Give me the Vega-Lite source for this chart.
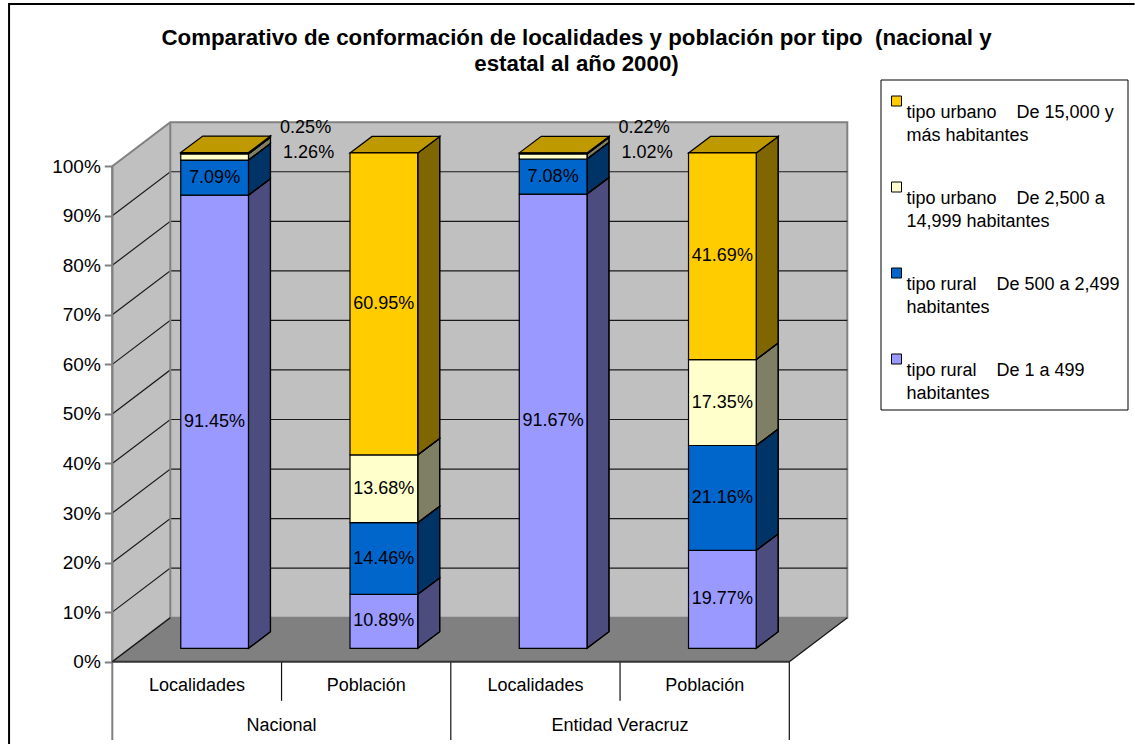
{
"$schema":"https://vega.github.io/schema/vega-lite/v6.json",
"width":1135,"height":744,"padding":0,"autosize":"none","background":"#ffffff",
"view":{"stroke":null},
"config":{"font":"Liberation Sans"},
"title":{"text":["Comparativo de conformación de localidades y población por tipo \u00a0(nacional y","estatal al año 2000)"],"font":"Liberation Sans","fontSize":22.3,"fontWeight":"bold","color":"#000","anchor":"middle","frame":"group","baseline":"top","dx":9,"dy":75,"offset":0,"lineHeight":26},
"datasets":{
"barras":[
{"pos":0,"clave":"Nacional Localidades","orden":1,"serie":"tipo rural\u00a0\u00a0\u00a0\u00a0De 1 a 499 habitantes","valor":91.45},
{"pos":0,"clave":"Nacional Localidades","orden":2,"serie":"tipo rural\u00a0\u00a0\u00a0\u00a0De 500 a 2,499 habitantes","valor":7.09},
{"pos":0,"clave":"Nacional Localidades","orden":3,"serie":"tipo urbano\u00a0\u00a0\u00a0\u00a0De 2,500 a 14,999 habitantes","valor":1.26},
{"pos":0,"clave":"Nacional Localidades","orden":4,"serie":"tipo urbano\u00a0\u00a0\u00a0\u00a0De 15,000 y más habitantes","valor":0.25},
{"pos":1,"clave":"Nacional Población","orden":1,"serie":"tipo rural\u00a0\u00a0\u00a0\u00a0De 1 a 499 habitantes","valor":10.89},
{"pos":1,"clave":"Nacional Población","orden":2,"serie":"tipo rural\u00a0\u00a0\u00a0\u00a0De 500 a 2,499 habitantes","valor":14.46},
{"pos":1,"clave":"Nacional Población","orden":3,"serie":"tipo urbano\u00a0\u00a0\u00a0\u00a0De 2,500 a 14,999 habitantes","valor":13.68},
{"pos":1,"clave":"Nacional Población","orden":4,"serie":"tipo urbano\u00a0\u00a0\u00a0\u00a0De 15,000 y más habitantes","valor":60.95},
{"pos":2,"clave":"Veracruz Localidades","orden":1,"serie":"tipo rural\u00a0\u00a0\u00a0\u00a0De 1 a 499 habitantes","valor":91.67},
{"pos":2,"clave":"Veracruz Localidades","orden":2,"serie":"tipo rural\u00a0\u00a0\u00a0\u00a0De 500 a 2,499 habitantes","valor":7.08},
{"pos":2,"clave":"Veracruz Localidades","orden":3,"serie":"tipo urbano\u00a0\u00a0\u00a0\u00a0De 2,500 a 14,999 habitantes","valor":1.02},
{"pos":2,"clave":"Veracruz Localidades","orden":4,"serie":"tipo urbano\u00a0\u00a0\u00a0\u00a0De 15,000 y más habitantes","valor":0.22},
{"pos":3,"clave":"Veracruz Población","orden":1,"serie":"tipo rural\u00a0\u00a0\u00a0\u00a0De 1 a 499 habitantes","valor":19.77},
{"pos":3,"clave":"Veracruz Población","orden":2,"serie":"tipo rural\u00a0\u00a0\u00a0\u00a0De 500 a 2,499 habitantes","valor":21.16},
{"pos":3,"clave":"Veracruz Población","orden":3,"serie":"tipo urbano\u00a0\u00a0\u00a0\u00a0De 2,500 a 14,999 habitantes","valor":17.35},
{"pos":3,"clave":"Veracruz Población","orden":4,"serie":"tipo urbano\u00a0\u00a0\u00a0\u00a0De 15,000 y más habitantes","valor":41.69}
],
"pared":[{"x":0,"a":100,"b":0},{"x":0.3427,"a":108.88,"b":8.88},{"x":4.3427,"a":108.88,"b":8.88}],
"piso":[{"x":0,"a":0,"b":0},{"x":0.3427,"a":8.88,"b":0},{"x":4,"a":8.88,"b":0},{"x":4.3427,"a":8.88,"b":8.88}],
"rejilla":[{"v":10},{"v":20},{"v":30},{"v":40},{"v":50},{"v":60},{"v":70},{"v":80},{"v":90}],
"categorias":[{"pos":0.5,"nombre":"Localidades"},{"pos":1.5,"nombre":"Población"},{"pos":2.5,"nombre":"Localidades"},{"pos":3.5,"nombre":"Población"}],
"grupos":[{"pos":1,"nombre":"Nacional"},{"pos":3,"nombre":"Entidad Veracruz"}],
"trazos":[
{"id":"marco","i":0,"x":-0.61,"y":-16.6,"estilo":"marco"},{"id":"marco","i":1,"x":-0.61,"y":132.73,"estilo":"marco"},{"id":"marco","i":2,"x":6.04,"y":132.73,"estilo":"marco"},
{"id":"arista","i":0,"x":0.3427,"y":108.88,"estilo":"gris"},{"id":"arista","i":1,"x":0.3427,"y":8.88,"estilo":"gris"},{"id":"eje","i":0,"x":0,"y":100,"estilo":"gris"},{"id":"eje","i":1,"x":0,"y":-15.8,"estilo":"gris"},{"id":"der","i":0,"x":4,"y":0,"estilo":"fino"},{"id":"der","i":1,"x":4,"y":-15.8,"estilo":"fino"},
{"id":"s1","i":0,"x":1,"y":0,"estilo":"fino"},{"id":"s1","i":1,"x":1,"y":-7.9,"estilo":"fino"},{"id":"s2","i":0,"x":2,"y":0,"estilo":"fino"},{"id":"s2","i":1,"x":2,"y":-15.8,"estilo":"fino"},{"id":"s3","i":0,"x":3,"y":0,"estilo":"fino"},{"id":"s3","i":1,"x":3,"y":-7.9,"estilo":"fino"},
{"id":"dd","i":0,"x":4,"y":0,"estilo":"fino"},{"id":"dd","i":1,"x":4.3427,"y":8.88,"estilo":"fino"},{"id":"di","i":0,"x":0,"y":0,"estilo":"fino"},{"id":"di","i":1,"x":0.3427,"y":8.88,"estilo":"fino"},
{"id":"base","i":0,"x":0,"y":0,"estilo":"base"},{"id":"base","i":1,"x":4,"y":0,"estilo":"base"}
]
},
"layer":[
{"data":{"name":"pared"},"mark":{"type":"area","fill":"#C0C0C0","stroke":"#808080","strokeWidth":2},"encoding":{"x":{"field":"x","type":"quantitative","scale":{"domain":[-0.6635,6.0425],"nice":false,"zero":false},"axis":null},"y":{"field":"a","type":"quantitative","scale":{"domain":[-16.61,133.54],"nice":false,"zero":false},"axis":{"values":[0,10,20,30,40,50,60,70,80,90,100],"title":null,"offset":-112.3,"domain":false,"grid":false,"tickColor":"#808080","tickSize":8,"tickWidth":2,"labelPadding":4,"labelFontSize":19,"labelColor":"#000","labelFont":"Liberation Sans","labelExpr":"datum.value+'%'"}},"y2":{"field":"b"}}},
{"data":{"name":"rejilla"},"transform":[{"calculate":"[0,1,2]","as":"t"},{"flatten":["t"]},{"calculate":"[0,0.3427,4.3427][datum.t]","as":"gx"},{"calculate":"datum.v+(datum.t>0?8.88:0)","as":"gy"}],"mark":{"type":"line","stroke":"#1a1a1a","strokeWidth":1.2},"encoding":{"x":{"field":"gx","type":"quantitative"},"y":{"field":"gy","type":"quantitative"},"detail":{"field":"v","type":"nominal"}}},
{"data":{"name":"piso"},"mark":{"type":"area","fill":"#808080"},"encoding":{"x":{"field":"x","type":"quantitative"},"y":{"field":"a","type":"quantitative"},"y2":{"field":"b"}}},
{"data":{"name":"trazos"},"transform":[{"filter":"datum.estilo=='marco'"}],"mark":{"type":"line","stroke":"#000","strokeWidth":2},"encoding":{"x":{"field":"x","type":"quantitative"},"y":{"field":"y","type":"quantitative"},"order":{"field":"i","type":"quantitative"},"detail":{"field":"id","type":"nominal"}}},
{"data":{"name":"trazos"},"transform":[{"filter":"datum.estilo=='gris'"}],"mark":{"type":"line","stroke":"#808080","strokeWidth":2},"encoding":{"x":{"field":"x","type":"quantitative"},"y":{"field":"y","type":"quantitative"},"order":{"field":"i","type":"quantitative"},"detail":{"field":"id","type":"nominal"}}},
{"data":{"name":"trazos"},"transform":[{"filter":"datum.estilo=='fino'"}],"mark":{"type":"line","stroke":"#111","strokeWidth":1.2},"encoding":{"x":{"field":"x","type":"quantitative"},"y":{"field":"y","type":"quantitative"},"order":{"field":"i","type":"quantitative"},"detail":{"field":"id","type":"nominal"}}},
{"data":{"name":"trazos"},"transform":[{"filter":"datum.estilo=='base'"}],"mark":{"type":"line","stroke":"#333","strokeWidth":2},"encoding":{"x":{"field":"x","type":"quantitative"},"y":{"field":"y","type":"quantitative"},"order":{"field":"i","type":"quantitative"},"detail":{"field":"id","type":"nominal"}}},
{"data":{"name":"categorias"},"mark":{"type":"text","fontSize":18,"font":"Liberation Sans","color":"#000","yOffset":24.5},"encoding":{"x":{"field":"pos","type":"quantitative"},"y":{"datum":0,"type":"quantitative"},"text":{"field":"nombre","type":"nominal"}}},
{"data":{"name":"grupos"},"mark":{"type":"text","fontSize":18,"font":"Liberation Sans","color":"#000","yOffset":64.5},"encoding":{"x":{"field":"pos","type":"quantitative"},"y":{"datum":0,"type":"quantitative"},"text":{"field":"nombre","type":"nominal"}}},
{"data":{"name":"barras"},
 "transform":[
  {"stack":"valor","groupby":["pos"],"sort":[{"field":"orden","order":"ascending"}],"as":["ini","fin"]},
  {"calculate":"datum.pos+0.5+0.1045-0.2","as":"x0"},
  {"calculate":"datum.pos+0.5+0.1045+0.2","as":"x1"},
  {"calculate":"datum.ini+2.7","as":"y0"},
  {"calculate":"datum.fin+2.7","as":"y1"}
 ],
 "layer":[
  {"transform":[{"calculate":"[0,1]","as":"t"},{"flatten":["t"]},{"calculate":"datum.x1+datum.t*0.13","as":"sx"},{"calculate":"datum.y0+datum.t*3.33","as":"sb"},{"calculate":"datum.y1+datum.t*3.33","as":"sa"},{"calculate":"datum.clave+datum.orden","as":"cara"}],
   "mark":{"type":"area","stroke":"#000","strokeWidth":1.2,"fillOpacity":1},
   "encoding":{"x":{"field":"sx","type":"quantitative"},"y":{"field":"sa","type":"quantitative"},"y2":{"field":"sb"},"detail":{"field":"cara","type":"nominal"},"fill":{"field":"serie","type":"nominal","title":" "}}},
  {"transform":[{"calculate":"[0,1]","as":"t"},{"flatten":["t"]},{"calculate":"datum.x1+datum.t*0.13","as":"sx"},{"calculate":"datum.y0+datum.t*3.33","as":"sb"},{"calculate":"datum.y1+datum.t*3.33","as":"sa"},{"calculate":"datum.clave+datum.orden","as":"cara"}],
   "mark":{"type":"area","fill":"#000","fillOpacity":0.5,"stroke":"#000","strokeWidth":1.2},
   "encoding":{"x":{"field":"sx","type":"quantitative"},"y":{"field":"sa","type":"quantitative"},"y2":{"field":"sb"},"detail":{"field":"cara","type":"nominal"}}},
  {"transform":[{"filter":"datum.orden==4"},{"calculate":"[0,1,2,3]","as":"t"},{"flatten":["t"]},{"calculate":"datum.x0+[0,0.13,0.4,0.53][datum.t]","as":"tx"},{"calculate":"datum.y1+(datum.t>0?3.33:0)","as":"ta"},{"calculate":"datum.y1+(datum.t==3?3.33:0)","as":"tb"}],
   "mark":{"type":"area","fill":"#BF9900","stroke":"#000","strokeWidth":1.2},
   "encoding":{"x":{"field":"tx","type":"quantitative"},"y":{"field":"ta","type":"quantitative"},"y2":{"field":"tb"},"detail":{"field":"clave","type":"nominal"}}},
  {"mark":{"type":"rect","stroke":"#000","strokeWidth":1.2},
   "encoding":{"x":{"field":"x0","type":"quantitative"},"x2":{"field":"x1"},"y":{"field":"y0","type":"quantitative"},"y2":{"field":"y1"},
    "fill":{"field":"serie","type":"nominal","title":" ",
     "scale":{"domain":["tipo urbano\u00a0\u00a0\u00a0\u00a0De 15,000 y más habitantes","tipo urbano\u00a0\u00a0\u00a0\u00a0De 2,500 a 14,999 habitantes","tipo rural\u00a0\u00a0\u00a0\u00a0De 500 a 2,499 habitantes","tipo rural\u00a0\u00a0\u00a0\u00a0De 1 a 499 habitantes"],"range":["#FFCC00","#FFFFCC","#0066CC","#9999FF"]},
     "legend":{"orient":"none","legendX":880.5,"legendY":79.5,"padding":7,"strokeColor":"#000","fillColor":"#fff","symbolType":"square","symbolSize":100,"symbolStrokeColor":"#000","symbolStrokeWidth":1,"symbolOpacity":1,"labelFont":"Liberation Sans","labelFontSize":18,"labelColor":"#000","labelLimit":260,"labelOffset":1,"labelBaseline":"middle","rowPadding":33,"titleFontSize":3.5,"titlePadding":2,"symbolLimit":4,
      "labelExpr":"[slice(datum.label,0,indexof(datum.label,'De 15,000')>0?indexof(datum.label,'más'):indexof(datum.label,'De 2,500')>0?indexof(datum.label,'14,999'):indexof(datum.label,' habitantes')+1),slice(datum.label,indexof(datum.label,'De 15,000')>0?indexof(datum.label,'más'):indexof(datum.label,'De 2,500')>0?indexof(datum.label,'14,999'):indexof(datum.label,' habitantes')+1)]",
      "encoding":{"labels":{"dy":{"value":11.5},"lineHeight":{"value":23}}}}}}},
  {"transform":[{"filter":"datum.valor>=2"},{"calculate":"(datum.y0+datum.y1)/2","as":"ly"},{"calculate":"datum.pos+0.6045","as":"lx"},{"calculate":"format(datum.valor,'.2f')+'%'","as":"txt"}],
   "mark":{"type":"text","fontSize":18,"font":"Liberation Sans","color":"#000"},
   "encoding":{"x":{"field":"lx","type":"quantitative"},"y":{"field":"ly","type":"quantitative"},"text":{"field":"txt","type":"nominal"}}},
  {"transform":[{"filter":"datum.orden==4 && datum.valor<2"},{"calculate":"datum.pos+0.6045","as":"lx"},{"calculate":"format(datum.valor,'.2f')+'%'","as":"txt"}],
   "mark":{"type":"text","fontSize":18,"font":"Liberation Sans","color":"#000","xOffset":91,"yOffset":-25},
   "encoding":{"x":{"field":"lx","type":"quantitative"},"y":{"field":"y1","type":"quantitative"},"text":{"field":"txt","type":"nominal"}}},
  {"transform":[{"filter":"datum.orden==3 && datum.valor<2"},{"calculate":"datum.pos+0.6045","as":"lx"},{"calculate":"format(datum.valor,'.2f')+'%'","as":"txt"}],
   "mark":{"type":"text","fontSize":18,"font":"Liberation Sans","color":"#000","xOffset":94,"yOffset":-1},
   "encoding":{"x":{"field":"lx","type":"quantitative"},"y":{"field":"y1","type":"quantitative"},"text":{"field":"txt","type":"nominal"}}}
 ]}
]}
